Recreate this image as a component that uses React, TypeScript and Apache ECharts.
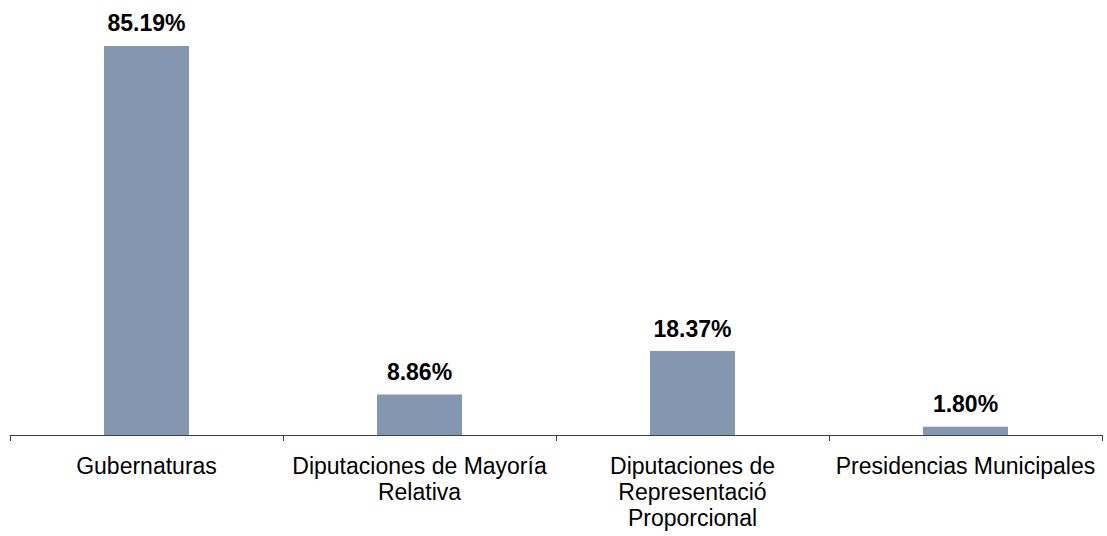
import React, { useEffect, useRef } from "react";
import * as echarts from "echarts";

const categories = [
  "Gubernaturas",
  "Diputaciones de Mayoría\nRelativa",
  "Diputaciones de\nRepresentació\nProporcional",
  "Presidencias Municipales",
];
const values = [85.19, 8.86, 18.37, 1.8];

export default function App() {
  const ref = useRef<HTMLDivElement>(null);
  useEffect(() => {
    if (!ref.current) return;
    const chart = echarts.init(ref.current, null, { renderer: "svg" });
    chart.setOption({
      animation: false,
      backgroundColor: "#ffffff",
      grid: { left: 10, right: 5, top: 24, bottom: 101, containLabel: false },
      xAxis: {
        type: "category",
        data: categories,
        axisLine: { lineStyle: { color: "#404040", width: 1 } },
        axisTick: { show: true, length: 6, lineStyle: { color: "#404040" } },
        axisLabel: {
          color: "#000000",
          fontFamily: "Liberation Sans, Arial, sans-serif",
          fontSize: 23,
          lineHeight: 26,
          margin: 18,
          interval: 0,
        },
      },
      yAxis: {
        type: "value",
        min: 0,
        max: 90,
        show: false,
        splitLine: { show: false },
      },
      series: [
        {
          type: "bar",
          data: values,
          barWidth: 85,
          itemStyle: { color: "#8497B0" },
          label: {
            show: true,
            position: "top",
            distance: 11,
            color: "#000000",
            fontFamily: "Liberation Sans, Arial, sans-serif",
            fontSize: 23,
            fontWeight: "bold",
            formatter: (p: any) => p.value.toFixed(2) + "%",
          },
        },
      ],
    });
    return () => chart.dispose();
  }, []);
  return (
    <div
      ref={ref}
      style={{ position: "fixed", left: 0, top: 0, width: 1107, height: 536, background: "#fff" }}
    />
  );
}
